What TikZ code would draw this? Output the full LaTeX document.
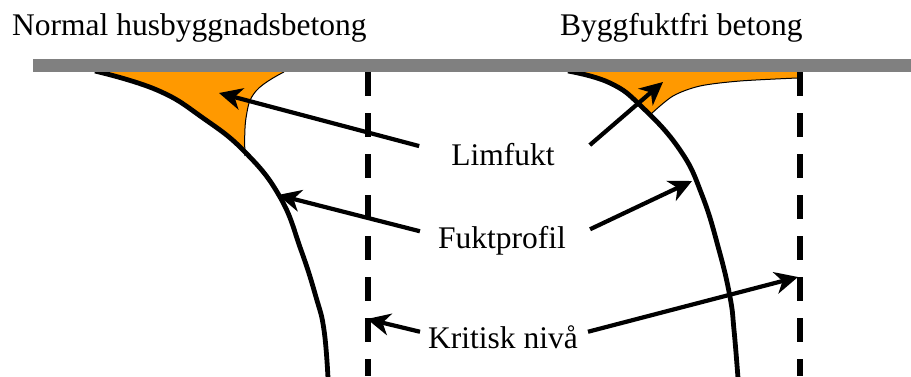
\documentclass[tikz,border=0pt]{standalone}
\usepackage{fontspec}
\setmainfont{Liberation Serif}
\usetikzlibrary{arrows.meta,calc}
\definecolor{cGray}{RGB}{128,128,128}
\definecolor{cOrange}{RGB}{255,153,0}
\tikzset{
    lbl/.style={font=\fontsize{31.5}{36}\selectfont, inner sep=0pt, anchor=base},
    ttl/.style={lbl, anchor=base west},
    profile/.style={line width=4.8pt, line join=round},
    rim/.style={line width=1pt},
    critline/.style={line width=6pt, dash pattern=on 24pt off 17pt},
    arr/.style={-{Stealth[length=23pt,width=22pt,inset=7pt]}, line width=4.2pt},
}
\newcommand{\leftprofile}{plot[smooth, tension=0.75] coordinates {(95,71) (157,90)
    (203,118) (245,152) (280,197) (301,250) (316,297) (324,330) (328,378)}}
\newcommand{\rightprofile}{plot[smooth, tension=0.75] coordinates {(568,71) (610,83)
    (642,107) (680,150) (702,195) (719,250) (730,297) (734,330) (738,378)}}

\begin{document}
\begin{tikzpicture}[x=1pt, y=-1pt]
\useasboundingbox (0,0) rectangle (911,376);

% ================================================================
%  ORANGE ZONES (clipped to the dry side of each profile)
% ================================================================
\begin{scope}
    \clip \leftprofile -- (420,378) -- (420,60) -- (60,60) -- cycle;
    \fill[cOrange] (80,72) -- (284,72)
        -- plot[smooth, tension=0.7] coordinates {(284,72) (256,91) (246,118) (245,156)}
        -- (80,156) -- cycle;
\end{scope}
\begin{scope}
    \clip \rightprofile -- (911,378) -- (911,60) -- (540,60) -- cycle;
    \fill[cOrange] (550,72) -- (797,72) -- (797,78)
        -- plot[smooth] coordinates {(797,78) (740,81) (700,86) (673,96) (651,114)}
        -- (550,114) -- cycle;
\end{scope}

% rims of the orange zones
\draw[rim] plot[smooth, tension=0.7] coordinates {(284,72) (256,91) (246,118) (245,156)};
\draw[rim] plot[smooth] coordinates {(797,78) (740,81) (700,86) (673,96) (651,114)};

% ── moisture profiles ──
\draw[profile] \leftprofile;
\draw[profile] \rightprofile;

% ── surface ──
\fill[cGray] (33,59) rectangle (911,72);

% ── critical levels ──
\coordinate (critL) at (368,72);
\coordinate (critR) at (800,72);
\draw[critline] (critL) -- (critL |- 0,376);
\draw[critline] (critR) -- (critR |- 0,376);

% ================================================================
%  TEXTS
% ================================================================
\node[ttl] (normal) at (12,35) {Normal husbyggnadsbetong};
\node[ttl] (byggfri) at (560,35) {Byggfuktfri betong};

\node[lbl] (lim) at (503,165) {Limfukt};
\node[lbl] (fp) at (502,248) {Fuktprofil};
\node[lbl] (kn) at (503,348) {Kritisk nivå};

% ================================================================
%  ARROWS
% ================================================================
\coordinate (limTipL) at (219,93);
\coordinate (limTipR) at (663,82);
\coordinate (fpTipL) at (278,195);
\coordinate (fpTipR) at (692,181);
\coordinate (knTipL) at (367,319);
\coordinate (knTipR) at (798,277);

\draw[arr] ($(lim.west)+(-32,-8)$) -- (limTipL);
\draw[arr] ($(lim.east)+(35,-9)$) -- (limTipR);
\draw[arr] ($(fp.west)+(-18,-9)$) -- (fpTipL);
\draw[arr] ($(fp.east)+(24,-11)$) -- (fpTipR);
\draw[arr] ($(kn.west)+(-8,-5)$) -- (knTipL);
\draw[arr] ($(kn.east)+(10,-5)$) -- (knTipR);

\end{tikzpicture}
\end{document}
